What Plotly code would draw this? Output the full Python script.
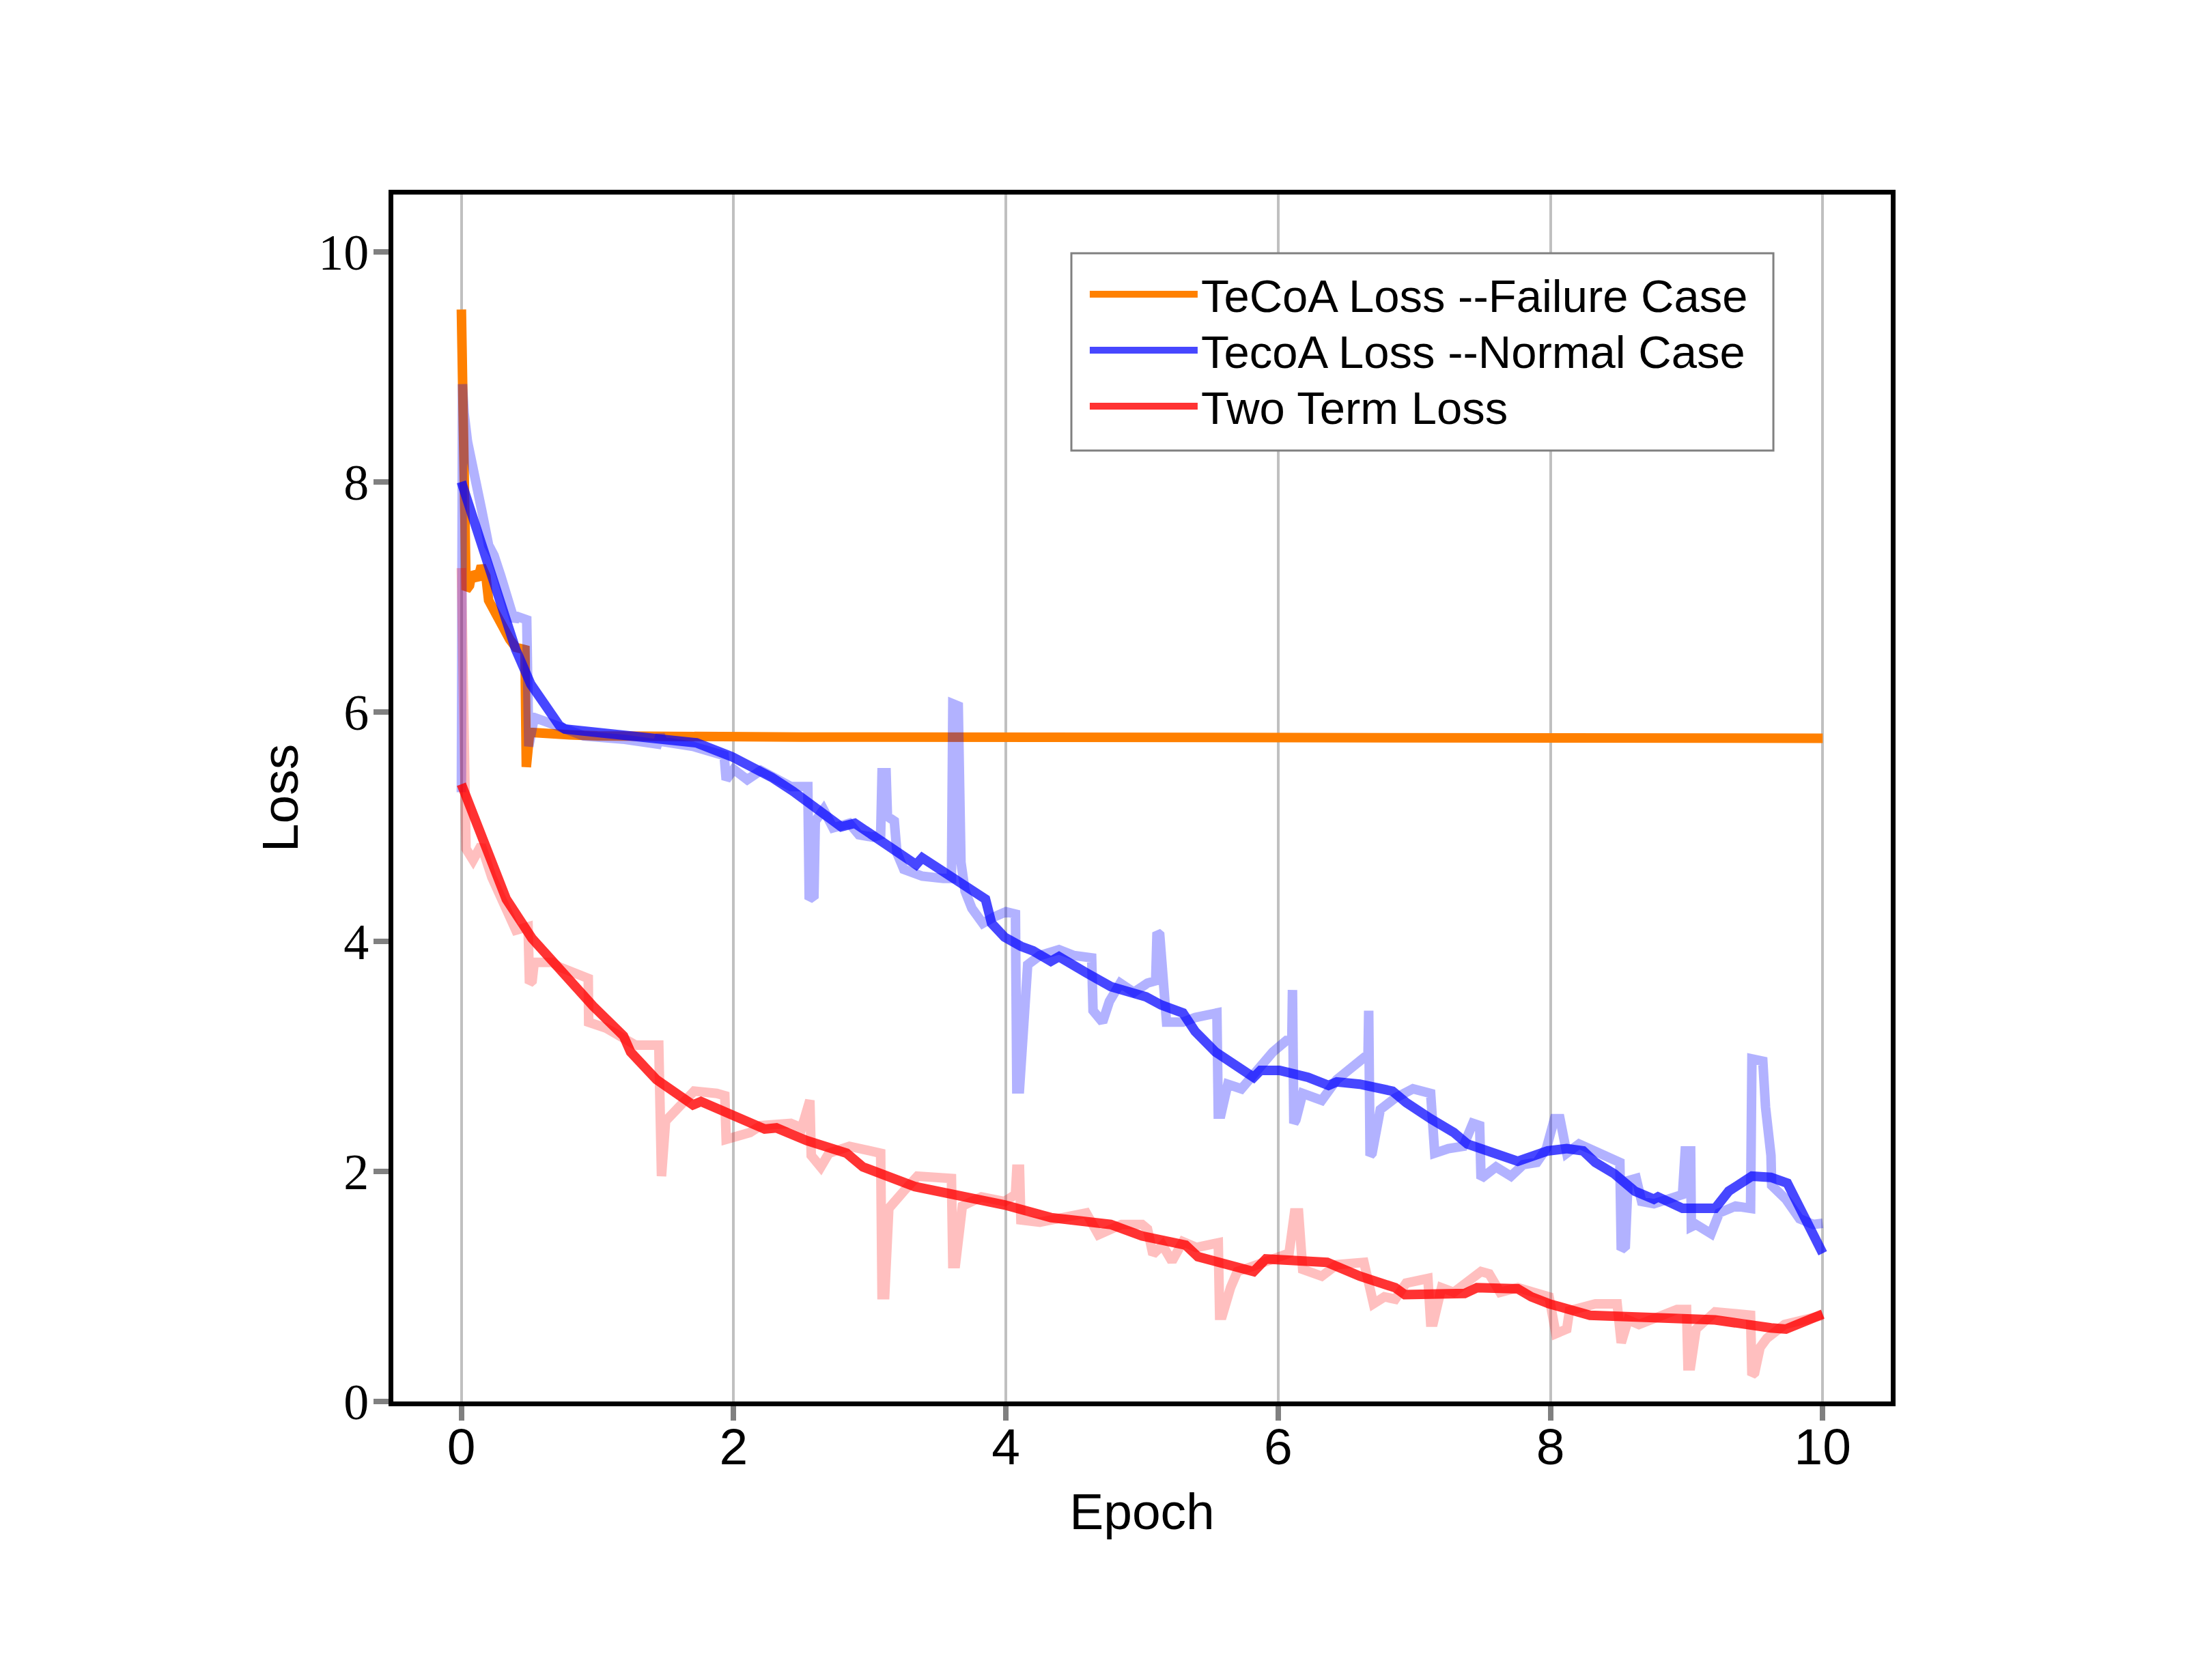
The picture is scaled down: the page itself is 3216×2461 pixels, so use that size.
import plotly.graph_objects as go

# ---------------- data ----------------
fail_x = [0.0, 0.005, 0.011, 0.02, 0.035, 0.06, 0.078, 0.10, 0.12, 0.146, 0.18, 0.20, 0.25, 0.30,
          0.355, 0.40, 0.467, 0.477, 0.50, 0.52, 0.6, 0.8, 1.0, 1.5, 2.0, 2.5, 3.0, 3.5, 4.0, 4.5,
          5.0, 5.5, 6.0, 6.5, 7.0, 7.5, 8.0, 8.5, 9.0, 9.5, 10.0]
fail_y = [9.50, 9.2, 8.9, 7.6, 7.06, 7.10, 7.21, 7.18, 7.15, 7.27, 7.18, 6.97, 6.86, 6.72,
          6.63, 6.56, 6.54, 5.52, 5.80, 5.82, 5.81, 5.80, 5.79, 5.78, 5.78, 5.78, 5.78, 5.78, 5.78, 5.77,
          5.77, 5.77, 5.77, 5.77, 5.78, 5.78, 5.78, 5.77, 5.77, 5.77, 5.77]

norm_raw_x = [0.0, 0.008, 0.02, 0.045, 0.073, 0.11, 0.15, 0.2, 0.24, 0.29, 0.34, 0.39, 0.41, 0.48,
              0.495, 0.535, 0.63, 0.75, 0.9, 1.2, 1.44, 1.46, 1.48, 1.7, 1.93, 1.945, 2.0, 2.1, 2.2,
              2.42, 2.545, 2.555, 2.59, 2.60, 2.66, 2.73, 2.85, 2.92, 3.02, 3.08, 3.09, 3.12, 3.13,
              3.18, 3.2, 3.25, 3.385, 3.54, 3.60, 3.61, 3.65, 3.67, 3.70, 3.75, 3.83, 3.92, 4.0,
              4.07, 4.08, 4.10, 4.16, 4.25, 4.39, 4.5, 4.63, 4.64, 4.71, 4.76, 4.84, 4.94, 5.04,
              5.10, 5.11, 5.13, 5.15, 5.18, 5.30, 5.39, 5.55, 5.56, 5.58, 5.63, 5.73, 5.82, 5.96,
              6.06, 6.10, 6.105, 6.115, 6.13, 6.18, 6.32, 6.43, 6.60, 6.66, 6.665, 6.675, 6.69,
              6.75, 6.86, 6.99, 7.12, 7.15, 7.25, 7.36, 7.43, 7.48, 7.49, 7.60, 7.71, 7.8, 7.9,
              7.97, 8.03, 8.07, 8.12, 8.21, 8.33, 8.51, 8.52, 8.55, 8.57, 8.63, 8.67, 8.76, 8.97,
              8.99, 9.03, 9.035, 9.07, 9.18, 9.24, 9.36, 9.47, 9.48, 9.56, 9.58, 9.62, 9.625,
              9.73, 9.83, 9.93, 10.0]
norm_raw_y = [5.30, 8.85, 8.6, 8.35, 8.21, 7.97, 7.75, 7.45, 7.36, 7.18, 6.97, 6.79, 6.83, 6.80,
              5.70, 5.95, 5.91, 5.85, 5.79, 5.76, 5.72, 5.80, 5.74, 5.70, 5.62, 5.41, 5.50, 5.41, 5.49,
              5.35, 5.35, 4.37, 4.40, 5.05, 5.15, 4.99, 5.03, 4.93, 4.91, 4.93, 5.47, 5.47, 5.09,
              5.05, 4.77, 4.63, 4.57, 4.55, 4.55, 6.07, 6.05, 4.69, 4.44, 4.29, 4.16, 4.22, 4.26,
              4.24, 2.72, 2.72, 3.80, 3.88, 3.93, 3.88, 3.86, 3.40, 3.30, 3.48, 3.64, 3.56, 3.64,
              3.66, 4.08, 4.06, 3.60, 3.30, 3.30, 3.34, 3.38, 2.50, 2.50, 2.76, 2.72, 2.84, 3.04,
              3.14, 3.14, 3.58, 2.42, 2.45, 2.68, 2.62, 2.80, 2.96, 3.02, 3.40, 2.14, 2.16,
              2.54, 2.64, 2.72, 2.68, 2.16, 2.20, 2.22, 2.42, 2.40, 1.94, 2.04, 1.96, 2.06, 2.08,
              2.20, 2.46, 2.46, 2.16, 2.24, 2.18, 2.08, 1.32, 1.35, 1.92, 1.94, 1.74, 1.72, 1.80,
              2.18, 2.18, 1.52, 1.54, 1.46, 1.64, 1.70, 1.68, 2.98, 2.96, 2.56, 2.14, 1.88,
              1.76, 1.59, 1.54, 1.55]

norm_smooth_x = [0.0, 0.146, 0.30, 0.40, 0.51, 0.61, 0.72, 0.76, 0.97, 1.3, 1.6, 1.727, 1.986, 2.28,
                 2.435, 2.535, 2.79, 2.89, 3.126, 3.34, 3.385, 3.61, 3.82, 3.85, 3.895, 3.99, 4.11,
                 4.2, 4.33, 4.39, 4.59, 4.77, 5.03, 5.14, 5.30, 5.39, 5.54, 5.70, 5.82, 5.87, 6.01,
                 6.22, 6.37, 6.43, 6.60, 6.84, 6.94, 7.12, 7.29, 7.39, 7.55, 7.76, 7.98, 8.12, 8.24,
                 8.33, 8.47, 8.62, 8.76, 8.79, 8.97, 9.21, 9.31, 9.48, 9.62, 9.74, 10.0]
norm_smooth_y = [8.0, 7.45, 6.91, 6.54, 6.24, 6.06, 5.88, 5.85, 5.82, 5.78, 5.74, 5.73, 5.61, 5.43,
                 5.31, 5.22, 5.00, 5.03, 4.85, 4.67, 4.73, 4.55, 4.40, 4.37, 4.16, 4.04, 3.96,
                 3.92, 3.83, 3.87, 3.73, 3.61, 3.52, 3.45, 3.38, 3.22, 3.04, 2.92, 2.82, 2.88, 2.88,
                 2.82, 2.75, 2.78, 2.76, 2.70, 2.60, 2.46, 2.34, 2.24, 2.17, 2.09, 2.18, 2.20, 2.18,
                 2.08, 1.98, 1.83, 1.76, 1.78, 1.68, 1.68, 1.83, 1.96, 1.95, 1.90, 1.29]

two_raw_x = [0.0, 0.01, 0.025, 0.034, 0.086, 0.146, 0.224, 0.29, 0.40, 0.49, 0.50, 0.52, 0.535,
             0.67, 0.72, 0.932, 0.935, 1.06, 1.18, 1.28, 1.45, 1.459, 1.47, 1.50, 1.54, 1.64, 1.71,
             1.876, 1.935, 1.945, 2.04, 2.12, 2.2, 2.42, 2.50, 2.545, 2.56, 2.57, 2.64, 2.70, 2.85,
             3.08, 3.09, 3.11, 3.14, 3.25, 3.35, 3.6, 3.61, 3.63, 3.68, 3.82, 3.99, 4.07, 4.08,
             4.10, 4.11, 4.25, 4.39, 4.59, 4.68, 4.85, 5.0, 5.04, 5.08, 5.15, 5.22, 5.30, 5.40,
             5.56, 5.57, 5.59, 5.65, 5.70, 5.80, 5.94, 6.08, 6.12, 6.15, 6.18, 6.32, 6.43, 6.63,
             6.70, 6.78, 6.86, 6.94, 7.10, 7.12, 7.14, 7.20, 7.29, 7.49, 7.55, 7.63, 7.76, 7.99,
             8.04, 8.12, 8.14, 8.33, 8.49, 8.52, 8.57, 8.65, 8.93, 9.0, 9.01, 9.03, 9.07, 9.21,
             9.47, 9.48, 9.50, 9.54, 9.59, 9.72, 10.0]
two_raw_y = [7.25, 6.2, 5.3, 4.81, 4.71, 4.84, 4.56, 4.38, 4.10, 4.13, 3.64, 3.66, 3.82,
             3.82, 3.78, 3.68, 3.30, 3.25, 3.16, 3.10, 3.10, 1.96, 1.96, 2.44, 2.49, 2.64, 2.70,
             2.68, 2.66, 2.28, 2.32, 2.34, 2.40, 2.42, 2.38, 2.62, 2.62, 2.14, 2.04, 2.16, 2.22,
             2.16, 0.93, 0.93, 1.68, 1.83, 1.96, 1.94, 1.20, 1.20, 1.70, 1.78, 1.74, 1.80, 2.02,
             2.02, 1.58, 1.56, 1.60, 1.64, 1.45, 1.54, 1.54, 1.50, 1.28, 1.36, 1.22, 1.39, 1.34,
             1.38, 0.75, 0.75, 0.99, 1.13, 1.17, 1.23, 1.29, 1.64, 1.64, 1.15, 1.09, 1.19, 1.21,
             0.85, 0.91, 0.89, 1.03, 1.07, 0.69, 0.69, 0.99, 0.95, 1.13, 1.11, 0.95, 0.99, 0.91,
             0.59, 0.63, 0.79, 0.85, 0.85, 0.51, 0.71, 0.67, 0.80, 0.80, 0.31, 0.31, 0.63, 0.78,
             0.75, 0.23, 0.25, 0.47, 0.55, 0.67, 0.75]

two_smooth_x = [0.0, 0.285, 0.33, 0.518, 0.742, 0.967, 1.191, 1.243, 1.433, 1.701, 1.76, 1.986,
                2.228, 2.314, 2.535, 2.83, 2.95, 3.33, 3.64, 3.99, 4.33, 4.77, 5.0, 5.14, 5.32,
                5.41, 5.82, 5.91, 6.36, 6.60, 6.86, 6.93, 7.29, 7.37, 7.46, 7.76, 7.86, 7.99,
                8.29, 8.76, 9.21, 9.62, 9.73, 10.0]
two_smooth_y = [5.37, 4.49, 4.37, 4.03, 3.72, 3.44, 3.18, 3.04, 2.80, 2.58, 2.61, 2.50,
                2.37, 2.38, 2.27, 2.16, 2.04, 1.87, 1.80, 1.71, 1.60, 1.54, 1.44, 1.40, 1.36,
                1.26, 1.13, 1.24, 1.21, 1.09, 0.99, 0.93, 0.95, 0.94, 0.99, 0.98, 0.91, 0.85,
                0.75, 0.72, 0.71, 0.64, 0.63, 0.76]

x_ticks = [0, 2, 4, 6, 8, 10]
y_ticks = [0, 2, 4, 6, 8, 10]

# ---------------- figure ----------------
LW = 14
fig = go.Figure()
fig.add_trace(go.Scatter(x=fail_x, y=fail_y, mode="lines", name="TeCoA Loss --Failure Case",
                         legend="legend",
                         line=dict(color="rgb(255,128,0)", width=LW)))
fig.add_trace(go.Scatter(x=norm_raw_x, y=norm_raw_y, mode="lines", showlegend=False,
                         line=dict(color="rgba(0,0,255,0.3)", width=LW)))
fig.add_trace(go.Scatter(x=norm_smooth_x, y=norm_smooth_y, mode="lines", name="TecoA Loss --Normal Case",
                         legend="legend2",
                         line=dict(color="rgba(0,0,255,0.72)", width=LW)))
fig.add_trace(go.Scatter(x=two_raw_x, y=two_raw_y, mode="lines", showlegend=False,
                         line=dict(color="rgba(255,0,0,0.25)", width=LW)))
fig.add_trace(go.Scatter(x=two_smooth_x, y=two_smooth_y, mode="lines", name="Two Term Loss",
                         legend="legend3",
                         line=dict(color="rgba(255,0,0,0.8)", width=LW)))

leg_common = dict(x=0.4628, xanchor="left", yanchor="top",
                  bgcolor="rgba(0,0,0,0)", borderwidth=0,
                  font=dict(family="Liberation Sans, Arial", size=67, color="black"),
                  itemwidth=158)

fig.update_layout(
    width=3216, height=2461,
    margin=dict(l=568, r=455, t=277, b=416),
    paper_bgcolor="white", plot_bgcolor="white",
    legend=dict(y=0.9457, **leg_common),
    legend2=dict(y=0.8993, **leg_common),
    legend3=dict(y=0.8529, **leg_common),
    shapes=[dict(type="rect", xref="paper", yref="paper",
                 x0=0.4528, x1=0.9216, y0=0.7879, y1=0.9514,
                 line=dict(color="#808080", width=3), fillcolor="white", layer="above")],
)
fig.update_xaxes(
    range=[-0.5, 10.5], tickvals=x_ticks, ticktext=[str(v) for v in x_ticks],
    showgrid=True, gridcolor="#c0c0c0", gridwidth=3.5, zeroline=False,
    showline=True, linecolor="black", linewidth=7, mirror=True,
    ticks="outside", ticklen=21, tickwidth=8, tickcolor="#808080",
    ticklabelstandoff=-26,
    tickfont=dict(family="Liberation Sans, Arial", size=75, color="black"),
    title=dict(text="Epoch", font=dict(family="Liberation Sans, Arial", size=75, color="black"), standoff=30),
)
fig.update_yaxes(
    range=[0, 10.5], tickvals=y_ticks, ticktext=[str(v) for v in y_ticks],
    showgrid=False, zeroline=False,
    showline=True, linecolor="black", linewidth=7, mirror=True,
    ticks="outside", ticklen=22, tickwidth=8, tickcolor="#808080",
    ticklabelstandoff=-8,
    tickfont=dict(family="Liberation Serif, Times New Roman", size=74, color="black"),
    title=dict(text="Loss", font=dict(family="Liberation Sans, Arial", size=75, color="black"), standoff=7),
)

fig.write_html("out.html")
